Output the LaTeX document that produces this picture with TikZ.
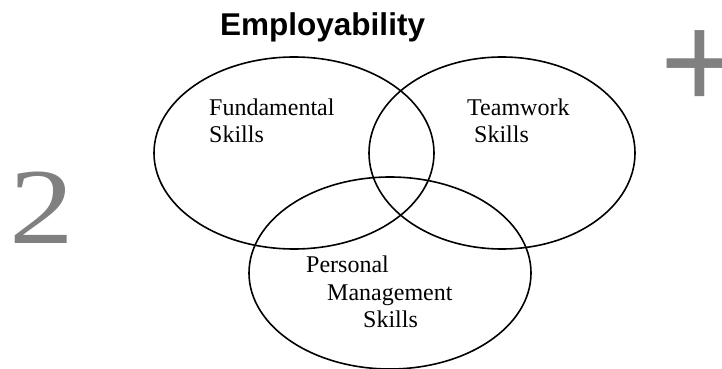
\documentclass[tikz,border=0pt]{standalone}
\usepackage{fontspec}
\setmainfont{Liberation Serif}
\newfontfamily\headfont{Liberation Sans}
\usepackage{xcolor}
\usetikzlibrary{positioning}
\definecolor{markgray}{RGB}{128,128,128}

\begin{document}
\begin{tikzpicture}[x=1pt, y=-1pt,
  every node/.style={inner sep=0pt, anchor=base west},
  skill/.style={font=\fontsize{24}{27}\selectfont},
  ring/.style={line width=1.6pt}]
\useasboundingbox (0,0) rectangle (722,369);
% the three skill sets
\foreach \n/\cx/\cy/\rx in {fund/294/153/140, team/502/153/133, pers/390/273/141}
  \draw[ring] (\cx,\cy) ellipse [x radius=\rx pt, y radius=96pt];
\node[font=\headfont\bfseries\fontsize{31.5}{34}\selectfont] (title) at (220,36) {Employability};
\node[skill] (fund1) at (209,115) {Fundamental};
\node[skill] (fund2) at (209,142) {Skills};
\node[skill] (team1) at (467,115) {Teamwork};
\node[skill] (team2) at (474,142) {Skills};
\node[skill] (pers1) at (306,272) {Personal};
\node[skill] (pers2) at (327,300) {Management};
\node[skill] (pers3) at (363,327) {Skills};
% page marks at the sides
\node[markgray, font=\fontsize{108}{108}\selectfont] (num) at (9,243) {\scalebox{1.2}[1]{2}};
\node[markgray, font=\headfont\fontsize{135}{135}\selectfont] (plus) at (660,108) {+};
\end{tikzpicture}
\end{document}
